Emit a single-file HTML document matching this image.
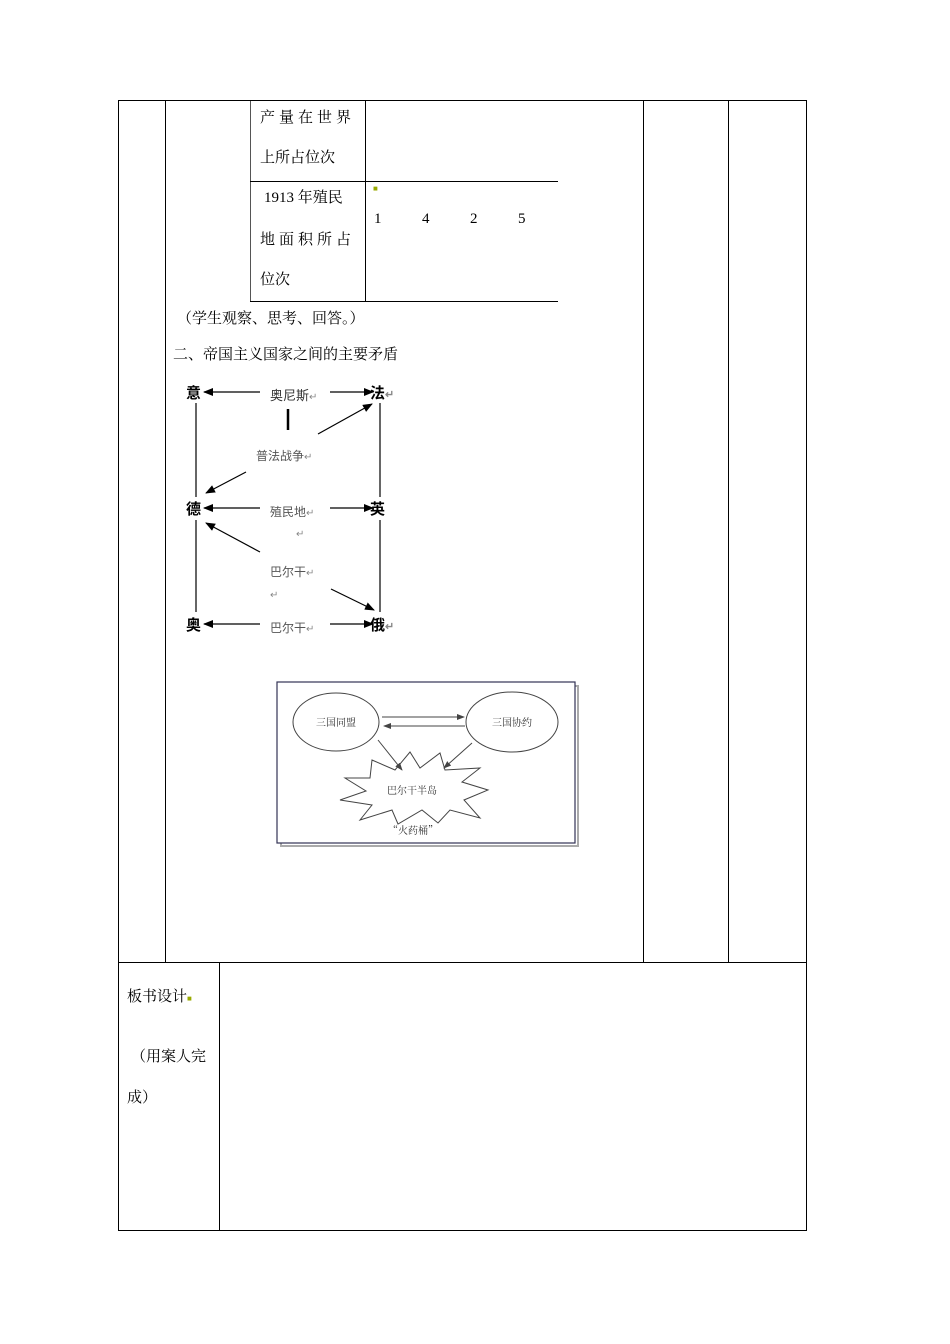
<!DOCTYPE html>
<html><head><meta charset="utf-8"><style>
body{margin:0;background:#fff;}
.p{position:relative;width:950px;height:1344px;font-family:"Liberation Serif","Noto Serif CJK SC",serif;color:#000;}
.t{position:absolute;font-size:15px;white-space:nowrap;}
.l{position:absolute;background:#000;}
.g{font-family:"Liberation Sans","Noto Sans CJK SC",sans-serif;}
</style></head><body><div class="p">
<!-- outer table -->
<div class="l" style="left:118px;top:100px;width:689px;height:1px"></div>
<div class="l" style="left:118px;top:100px;width:1px;height:1131px"></div>
<div class="l" style="left:806px;top:100px;width:1px;height:1131px"></div>
<div class="l" style="left:165px;top:100px;width:1px;height:862px"></div>
<div class="l" style="left:643px;top:100px;width:1px;height:862px"></div>
<div class="l" style="left:728px;top:100px;width:1px;height:862px"></div>
<div class="l" style="left:118px;top:962px;width:689px;height:1px"></div>
<div class="l" style="left:219px;top:962px;width:1px;height:269px"></div>
<div class="l" style="left:118px;top:1230px;width:689px;height:1px"></div>
<!-- inner table -->
<div class="l" style="left:250px;top:100px;width:1px;height:202px;background:#555"></div>
<div class="l" style="left:365px;top:100px;width:1px;height:202px"></div>
<div class="l" style="left:250px;top:100px;width:308px;height:1px"></div>
<div class="l" style="left:250px;top:181px;width:308px;height:1px"></div>
<div class="l" style="left:250px;top:301px;width:308px;height:1px"></div>
<div class="t" style="left:260px;top:106px;letter-spacing:4px">产量在世界</div>
<div class="t" style="left:260px;top:146px">上所占位次</div>
<div class="t" style="left:264px;top:186px">1913 年殖民</div>
<div class="t" style="left:260px;top:228px;letter-spacing:4px">地面积所占</div>
<div class="t" style="left:260px;top:268px">位次</div>
<div class="t" style="left:373px;top:184px;font-size:8px;color:#9a0">■</div>
<div class="t" style="left:374px;top:211px">1</div>
<div class="t" style="left:422px;top:211px">4</div>
<div class="t" style="left:470px;top:211px">2</div>
<div class="t" style="left:518px;top:211px">5</div>
<div class="t" style="left:177px;top:307px">（学生观察、思考、回答。）</div>
<div class="t" style="left:173px;top:343px">二、帝国主义国家之间的主要矛盾</div>
<!-- diagram 1 -->
<svg style="position:absolute;left:0;top:0" width="950" height="1344">
<defs><marker id="a" markerWidth="10" markerHeight="8" refX="9" refY="4" orient="auto" markerUnits="userSpaceOnUse"><path d="M0,0L10,4L0,8z"/></marker>
<marker id="b" markerWidth="8" markerHeight="6" refX="7" refY="3" orient="auto" markerUnits="userSpaceOnUse"><path d="M0,0L8,3L0,6z" fill="#444"/></marker></defs>
<g stroke="#000" stroke-width="1.2" fill="none">
<line x1="196" y1="403" x2="196" y2="497"/><line x1="196" y1="520" x2="196" y2="612"/>
<line x1="380" y1="403" x2="380" y2="497"/><line x1="380" y1="520" x2="380" y2="612"/>
<line x1="260" y1="392" x2="204" y2="392" marker-end="url(#a)"/>
<line x1="330" y1="392" x2="373" y2="392" marker-end="url(#a)"/>
<line x1="260" y1="508" x2="204" y2="508" marker-end="url(#a)"/>
<line x1="330" y1="508" x2="373" y2="508" marker-end="url(#a)"/>
<line x1="260" y1="624" x2="204" y2="624" marker-end="url(#a)"/>
<line x1="330" y1="624" x2="373" y2="624" marker-end="url(#a)"/>
<line x1="318" y1="434" x2="372" y2="404" marker-end="url(#a)"/>
<line x1="246" y1="472" x2="206" y2="493" marker-end="url(#a)"/>
<line x1="260" y1="552" x2="206" y2="523" marker-end="url(#a)"/>
<line x1="331" y1="589" x2="374" y2="610" marker-end="url(#a)"/>
<line x1="288" y1="409" x2="288" y2="430" stroke-width="2.5"/>
</g>
<!-- diagram 2 -->
<rect x="281" y="686" width="297" height="160" fill="none" stroke="#aaa" stroke-width="2"/>
<rect x="277" y="682" width="298" height="161" fill="#fff" stroke="#335" stroke-width="1.2"/>
<g stroke="#444" stroke-width="1" fill="none">
<ellipse cx="336" cy="722" rx="43" ry="29"/>
<ellipse cx="512" cy="722" rx="46" ry="30"/>
<line x1="382" y1="717" x2="464" y2="717" marker-end="url(#b)"/>
<line x1="465" y1="726" x2="384" y2="726" marker-end="url(#b)"/>
<line x1="378" y1="740" x2="402" y2="770" marker-end="url(#b)"/>
<line x1="472" y1="743" x2="444" y2="768" marker-end="url(#b)"/>
<polygon points="372,760 395,770 410,752 420,768 440,753 445,770 480,768 462,782 488,790 464,800 480,818 450,810 438,823 422,810 398,824 392,810 360,820 372,805 340,800 366,791 345,778 370,778"/>
</g>
<text x="336" y="726" font-size="10" text-anchor="middle" fill="#333" font-family="Noto Serif CJK SC">三国同盟</text>
<text x="512" y="726" font-size="10" text-anchor="middle" fill="#333" font-family="Noto Serif CJK SC">三国协约</text>
<text x="412" y="794" font-size="10" text-anchor="middle" fill="#333" font-family="Noto Serif CJK SC">巴尔干半岛</text>
<text x="413" y="834" font-size="10" text-anchor="middle" fill="#333" font-family="Noto Serif CJK SC">“火药桶”</text>
</svg>
<div class="t g" style="left:186px;top:382px;font-weight:bold">意</div>
<div class="t g" style="left:370px;top:382px;font-weight:bold">法<span style="color:#888;font-size:11px">↵</span></div>
<div class="t g" style="left:186px;top:498px;font-weight:bold">德</div>
<div class="t g" style="left:370px;top:498px;font-weight:bold">英</div>
<div class="t g" style="left:186px;top:614px;font-weight:bold">奥</div>
<div class="t g" style="left:370px;top:614px;font-weight:bold">俄<span style="color:#888;font-size:11px">↵</span></div>
<div class="t g" style="left:270px;top:385px;font-size:13px;color:#333">奥尼斯<span style="color:#888;font-size:10px">↵</span></div>
<div class="t g" style="left:256px;top:447px;font-size:12px;color:#555">普法战争<span style="color:#888;font-size:10px">↵</span></div>
<div class="t g" style="left:270px;top:503px;font-size:12px;color:#555">殖民地<span style="color:#888;font-size:10px">↵</span></div>
<div class="t g" style="left:296px;top:529px;font-size:10px;color:#888">↵</div>
<div class="t g" style="left:270px;top:563px;font-size:12px;color:#555">巴尔干<span style="color:#888;font-size:10px">↵</span></div>
<div class="t g" style="left:270px;top:590px;font-size:10px;color:#888">↵</div>
<div class="t g" style="left:270px;top:619px;font-size:12px;color:#555">巴尔干<span style="color:#888;font-size:10px">↵</span></div>
<div class="t" style="left:127px;top:985px">板书设计<span style="color:#9a0;font-size:8px">■</span></div>
<div class="t" style="left:131px;top:1045px">（用案人完</div>
<div class="t" style="left:127px;top:1086px">成）</div>
</div></body></html>
